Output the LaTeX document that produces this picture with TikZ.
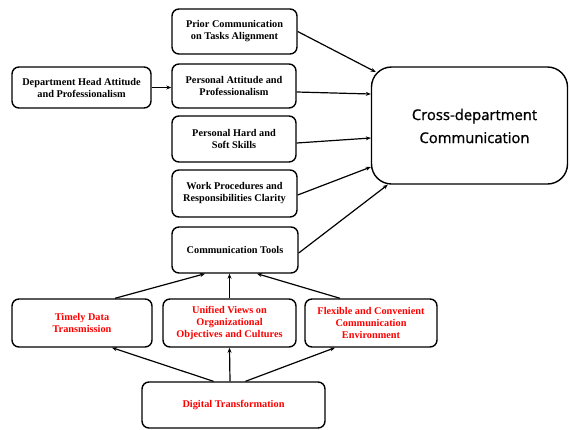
\documentclass[tikz,border=0pt]{standalone}
\usepackage{fontspec}
\setmainfont{Liberation Serif}
\newfontfamily\crossfont[BoldFont={Open Sans},BoldFeatures={FakeBold=1.2}]{Open Sans}
\usetikzlibrary{arrows.meta,calc}
\definecolor{boxred}{RGB}{255,0,0}
\begin{document}
\begin{tikzpicture}[x=1pt,y=-1pt,
  box/.style={draw=black,line width=1.4pt,rounded corners=7pt,align=center,
    font=\fontsize{10.3}{12}\selectfont\bfseries,inner sep=1pt},
  redbox/.style={box,text=boxred},
  conn/.style={line width=1.2pt,-{Stealth[length=5pt,width=4pt]}}]
\useasboundingbox (0,0) rectangle (570,429);
\node[box,minimum width=125pt,minimum height=45pt] (prior) at (234.5,31.5) {Prior Communication\\on Tasks Alignment};
\node[box,minimum width=124pt,minimum height=44pt] (pa) at (234,86) {Personal Attitude and\\Professionalism};
\node[box,minimum width=124pt,minimum height=46pt] (hard) at (234,139) {Personal Hard and\\Soft Skills};
\node[box,minimum width=125pt,minimum height=47pt] (work) at (234.5,193.5) {Work Procedures and\\Responsibilities Clarity};
\node[box,minimum width=139pt,minimum height=41pt] (dept) at (81.5,87.5) {Department Head Attitude\\and Professionalism};
\node[draw=black,line width=1.4pt,rounded corners=20pt,minimum width=196pt,minimum height=117pt] (cross) at (469.5,125.5) {};
\node[align=center,font=\crossfont\bfseries\fontsize{14.8}{23}\selectfont] (crosstext) at (474.5,126) {Cross-department\\Communication};
\node[box,minimum width=126pt,minimum height=46pt] (tools) at (235,250) {Communication Tools};
\node[redbox,minimum width=140pt,minimum height=48pt] (timely) at (82,323) {Timely Data\\Transmission};
\node[redbox,minimum width=133pt,minimum height=48pt] (unified) at (229.5,323) {Unified Views on\\Organizational\\Objectives and Cultures};
\node[redbox,minimum width=132pt,minimum height=48pt] (flex) at (371,323) {Flexible and Convenient\\Communication\\Environment};
\node[redbox,minimum width=183pt,minimum height=46pt] (digital) at (233.5,405) {Digital Transformation};

\draw[conn] (dept.east) -- (pa.west |- dept.east);
\draw[conn] (prior.east) -- ([xshift=5pt,yshift=53.5pt]cross.west);
\draw[conn] ([yshift=-6pt]pa.east) -- ([yshift=31.5pt]cross.west);
\draw[conn] ([yshift=-4pt]hard.east) -- ([yshift=-12.5pt]cross.west);
\draw[conn] ([yshift=-1.5pt]work.east) -- ([yshift=-41.5pt]cross.west);
\draw[conn] ([yshift=-3pt]tools.east) -- ([xshift=17pt]cross.south west);

\draw[conn] ([xshift=33pt]timely.north) -- ([xshift=-30pt]tools.south);
\draw[conn] (unified.north) -- (unified.north |- tools.south);
\draw[conn] ([xshift=-31pt]flex.north) -- ([xshift=22pt]tools.south);

\draw[conn] ([xshift=-20pt]digital.north) -- ([xshift=30pt]timely.south);
\draw[conn] ([xshift=-3.5pt]digital.north) -- (unified.south);
\draw[conn] ([xshift=12pt]digital.north) -- ([xshift=-36pt]flex.south);
\end{tikzpicture}
\end{document}
